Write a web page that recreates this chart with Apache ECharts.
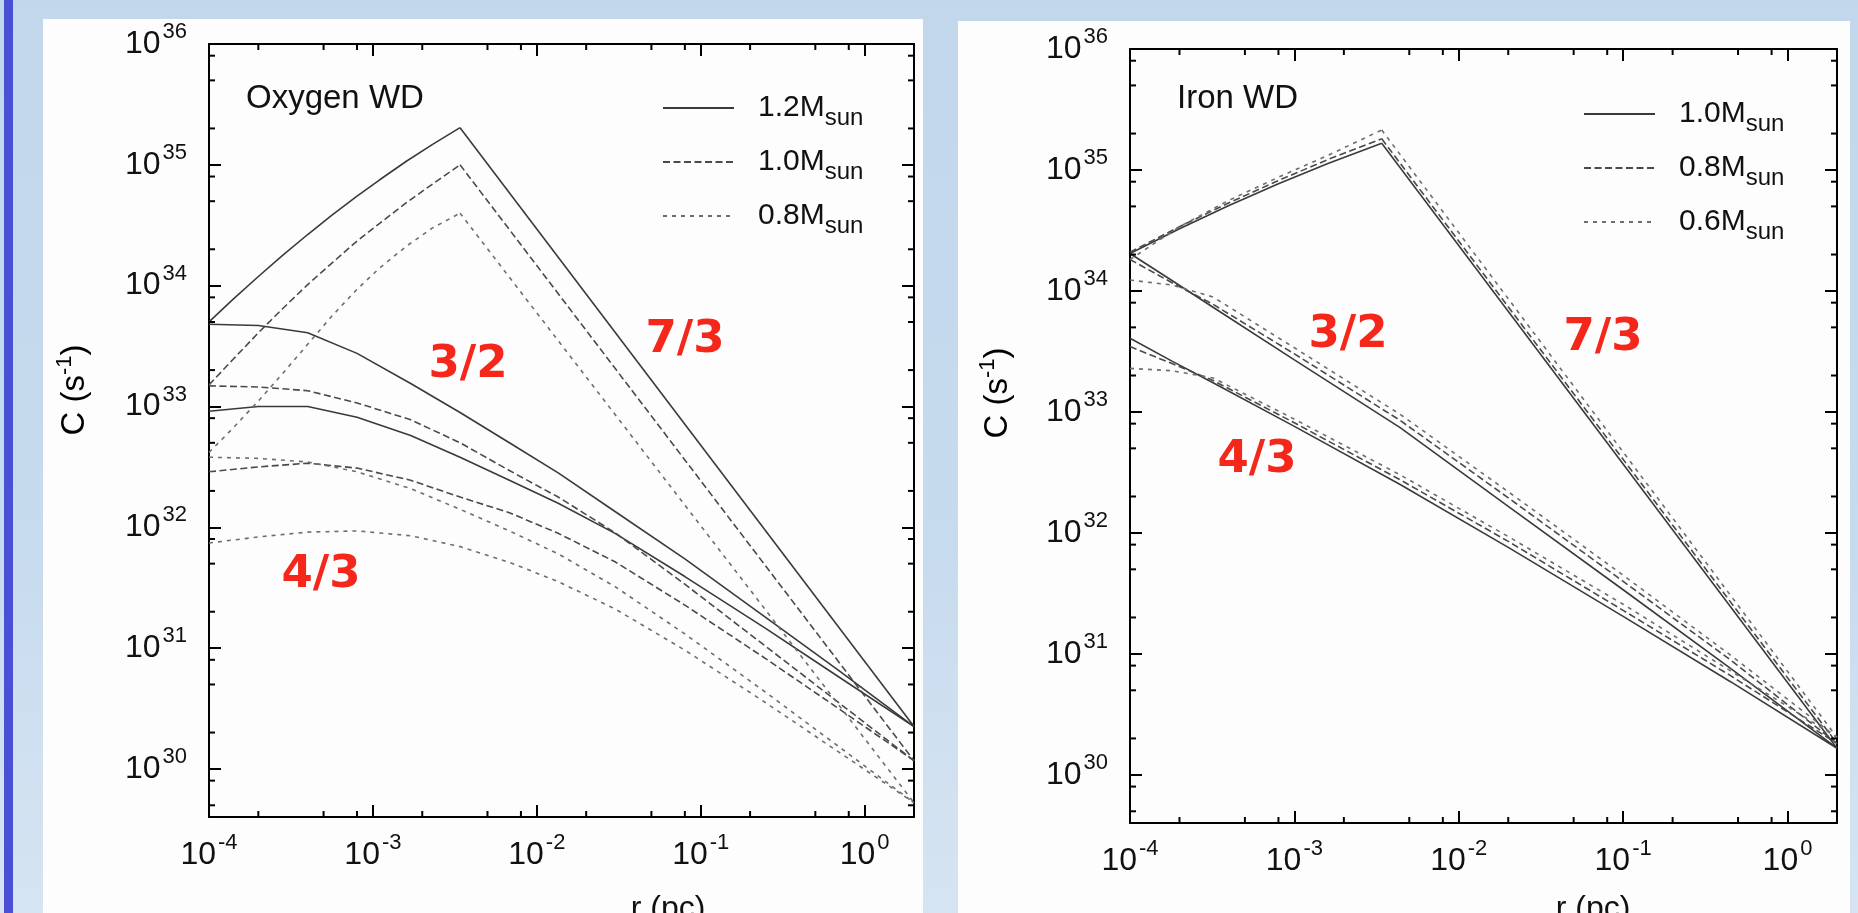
<!DOCTYPE html>
<html>
<head>
<meta charset="utf-8">
<script src="https://cdn.jsdelivr.net/npm/echarts@6/dist/echarts.min.js"></script>
<style>
  html, body { margin: 0; padding: 0; }
  body { width: 1858px; height: 913px; position: relative; overflow: hidden;
         background: linear-gradient(180deg, #c2d7ec 0%, #c7dbee 60%, #d6e4f2 100%); }
  .strip { position: absolute; left: 4px; top: 0; width: 9px; height: 913px; background: #4a50d6; }
  .panel { position: absolute; background: #fdfdfd; }
  #chart { position: absolute; left: 0; top: 0; width: 1858px; height: 913px; }
</style>
</head>
<body>
<div class="strip"></div>
<div class="panel" style="left:43px;top:19px;width:880px;height:894px;"></div>
<div class="panel" style="left:958px;top:21px;width:892px;height:892px;"></div>
<div id="chart"></div>
<script>
// ---- axis ranges ----
const R_MIN = 1e-4, R_MAX = 2;
const C_MIN = 4e29, C_MAX = 1e36;
const MINOR_STEPS = [2, 5, 8];

// ---- Oxygen WD (left panel) ----
// 7/3 branch: rising part up to the break radius, then a straight fall to r = 2 pc
const O_RISE_R = [1e-4, 1.4e-4, 2e-4, 2.8e-4, 4e-4, 5.6e-4, 8e-4, 1.1e-3, 1.6e-3, 2.3e-3, 3.4e-3];
const O12_73 = [5.01e33, 7.69e33, 1.19e34, 1.77e34, 2.65e34, 3.81e34, 5.51e34, 7.52e34, 1.07e35, 1.47e35, 2.03e35];
const O10_73 = [1.51e33, 2.45e33, 4.07e33, 6.41e33, 1.02e34, 1.53e34, 2.34e34, 3.28e34, 4.86e34, 6.90e34, 1.0e35];
const O08_73 = [4.17e32, 6.61e32, 1.11e33, 1.86e33, 3.27e33, 5.57e33, 9.33e33, 1.40e34, 2.12e34, 2.99e34, 3.98e34];
const O_FALL_R = [3.4e-3, 2];
const O12_73_FALL = [2.03e35, 2.24e30];
const O10_73_FALL = [1.0e35, 1.17e30];
const O08_73_FALL = [3.98e34, 5.25e29];

// 3/2 and 4/3 branches
const O_R = [1e-4, 2e-4, 4e-4, 8e-4, 1.7e-3, 3.4e-3, 6.8e-3, 1.35e-2, 3e-2, 8e-2, 2.5e-1, 7e-1, 2];
const O12_32 = [4.79e33, 4.68e33, 4.07e33, 2.75e33, 1.55e33, 8.91e32, 5.01e32, 2.82e32, 1.35e32, 5.48e31, 1.79e31, 6.47e30, 2.24e30];
const O12_43 = [9.12e32, 1.0e33, 1.0e33, 8.13e32, 5.75e32, 3.80e32, 2.45e32, 1.58e32, 8.91e31, 3.91e31, 1.45e31, 5.74e30, 2.24e30];
const O10_32 = [1.48e33, 1.45e33, 1.35e33, 1.07e33, 7.76e32, 5.01e32, 2.95e32, 1.78e32, 9.02e31, 3.38e31, 1.03e31, 3.51e30, 1.17e30];
const O10_43 = [2.88e32, 3.16e32, 3.39e32, 3.09e32, 2.45e32, 1.78e32, 1.32e32, 8.91e31, 5.18e31, 2.27e31, 8.15e30, 3.13e30, 1.17e30];
const O08_32 = [3.80e32, 3.72e32, 3.47e32, 2.88e32, 2.09e32, 1.41e32, 9.33e31, 6.03e31, 3.23e31, 1.31e31, 4.29e30, 1.52e30, 5.25e29];
const O08_43 = [7.41e31, 8.32e31, 9.12e31, 9.33e31, 8.51e31, 6.92e31, 5.13e31, 3.55e31, 2.11e31, 9.62e30, 3.52e30, 1.37e30, 5.25e29];

// ---- Iron WD (right panel) ----
const FE_RISE_R = [1e-4, 2e-4, 4e-4, 8e-4, 1.6e-3, 3.4e-3];
const FE10_73 = [2.04e34, 3.27e34, 5.08e34, 7.69e34, 1.13e35, 1.66e35];
const FE08_73 = [2.09e34, 3.40e34, 5.35e34, 8.18e34, 1.22e35, 1.81e35];
const FE06_73 = [1.82e34, 3.39e34, 5.62e34, 8.71e34, 1.32e35, 2.14e35];
const FE_FALL_R = [3.4e-3, 2];
const FE10_73_FALL = [1.66e35, 1.66e30];
const FE08_73_FALL = [1.81e35, 1.82e30];
const FE06_73_FALL = [2.14e35, 2.04e30];

const FE_R = [1e-4, 1.8e-4, 3.2e-4, 1e-3, 4.4e-3, 2e-2, 1e-1, 4.5e-1, 2];
const FE10_32 = [2.04e34, 1.22e34, 7.33e33, 2.69e33, 7.41e32, 1.66e32, 3.39e31, 7.59e30, 1.66e30];
const FE08_32 = [1.82e34, 1.17e34, 7.76e33, 3.02e33, 8.51e32, 1.95e32, 3.98e31, 8.91e30, 1.82e30];
const FE06_32 = [1.23e34, 1.12e34, 8.91e33, 3.39e33, 9.55e32, 2.19e32, 4.47e31, 9.77e30, 2.04e30];
const FE10_43 = [4.07e33, 2.63e33, 1.74e33, 7.59e32, 2.51e32, 7.59e31, 2.04e31, 5.89e30, 1.66e30];
const FE08_43 = [3.47e33, 2.51e33, 1.82e33, 8.13e32, 2.75e32, 8.51e31, 2.29e31, 6.61e30, 1.82e30];
const FE06_43 = [2.29e33, 2.19e33, 1.91e33, 8.71e32, 3.02e32, 9.33e31, 2.57e31, 7.24e30, 2.04e30];

// ---- legend entries ----
const LEGEND_O = ['1.2', '1.0', '0.8'];
const LEGEND_FE = ['1.0', '0.8', '0.6'];

const FONT = '"Liberation Sans", Arial, sans-serif';
const INK = '#111';
const LINE_STYLES = {
  solid:  { type: 'solid', color: '#3a3a3a' },
  dashed: { type: [7, 3.5], color: '#4a4a4a' },
  dotted: { type: [4, 5], color: '#6e6e6e' }
};

function curve(name, gi, r, c, kind) {
  const st = LINE_STYLES[kind];
  return {
    type: 'line', name: name, xAxisIndex: 2 * gi, yAxisIndex: 2 * gi,
    data: r.map((x, i) => [x, c[i]]),
    symbol: 'none', showSymbol: false, silent: true, animation: false, z: 3,
    lineStyle: { width: 1.6, type: st.type, color: st.color },
    itemStyle: { color: st.color }
  };
}

// power-of-ten tick label with superscript exponent
const POW_RICH = {
  b: { fontSize: 32, lineHeight: 46, fontFamily: FONT, color: INK },
  e: { fontSize: 22, lineHeight: 20, verticalAlign: 'top', fontFamily: FONT, color: INK, padding: [0, 0, 0, 2] }
};
function powLabel(v) {
  const e = Math.log10(v);
  const n = Math.round(e);
  if (!isFinite(e) || Math.abs(e - n) > 1e-6) return '';
  return '{b|10}{e|' + n + '}';
}

function axis(dim, gi, pos, labels) {
  const isX = dim === 'x';
  return {
    type: 'log', logBase: 10, gridIndex: gi, position: pos,
    min: isX ? R_MIN : C_MIN, max: isX ? R_MAX : C_MAX,
    axisLine: { show: true, onZero: false, lineStyle: { color: '#000', width: 2 } },
    axisTick: { show: true, inside: true, length: 12, lineStyle: { color: '#000', width: 2 } },
    minorTick: { show: false }, splitLine: { show: false },
    axisLabel: { show: labels, margin: isX ? 15 : 22, formatter: powLabel, rich: POW_RICH,
                 showMinLabel: true, showMaxLabel: true, hideOverlap: false },
    silent: true
  };
}

// minor ticks at 2, 5, 8 per decade on all four sides of a frame
function minorData() {
  const out = [];
  for (let e = -5; e <= 1; e++) {
    MINOR_STEPS.forEach(m => {
      const v = m * Math.pow(10, e);
      if (v > R_MIN && v < R_MAX * 0.999) out.push([v, C_MIN, 0]);
    });
  }
  for (let e = 29; e <= 36; e++) {
    MINOR_STEPS.forEach(m => {
      const v = m * Math.pow(10, e);
      if (v > C_MIN && v < C_MAX) out.push([R_MIN, v, 1]);
    });
  }
  return out;
}
function minorTicks(gi) {
  return {
    type: 'custom', xAxisIndex: 2 * gi, yAxisIndex: 2 * gi, silent: true, animation: false,
    clip: false, z: 4, data: minorData(),
    renderItem: function (params, api) {
      const kind = api.value(2);
      const p = api.coord([api.value(0), api.value(1)]);
      const cs = params.coordSys;
      const st = { stroke: '#000', lineWidth: 2 };
      const L = 6;
      if (kind === 0) {
        return { type: 'group', children: [
          { type: 'line', shape: { x1: p[0], y1: cs.y + cs.height, x2: p[0], y2: cs.y + cs.height - L }, style: st },
          { type: 'line', shape: { x1: p[0], y1: cs.y, x2: p[0], y2: cs.y + L }, style: st }
        ] };
      }
      return { type: 'group', children: [
        { type: 'line', shape: { x1: cs.x, y1: p[1], x2: cs.x + L, y2: p[1] }, style: st },
        { type: 'line', shape: { x1: cs.x + cs.width, y1: p[1], x2: cs.x + cs.width - L, y2: p[1] }, style: st }
      ] };
    }
  };
}

const LEG_RICH = {
  a: { fontSize: 30, lineHeight: 44, fontFamily: FONT, color: INK, padding: [0, 0, 0, 19] },
  s: { fontSize: 24, lineHeight: 22, verticalAlign: 'bottom', fontFamily: FONT, color: INK }
};
function legend(left, top, names, labels) {
  return {
    left: left, top: top, orient: 'vertical', itemWidth: 71, itemHeight: 14, itemGap: 17,
    selectedMode: false, data: names,
    itemStyle: { opacity: 0, borderWidth: 0 },
    formatter: n => '{a|' + labels[names.indexOf(n)] + 'M}{s|sun}',
    textStyle: { rich: LEG_RICH }
  };
}

const RED = '#f5271a';
function redText(txt, x, y) {
  return { type: 'text', x: x, y: y, silent: true, z: 10,
    style: { text: txt, fill: RED, font: 'bold 45px "DejaVu Sans", sans-serif', align: 'center', verticalAlign: 'middle' } };
}
function plainText(txt, x, y) {
  return { type: 'text', x: x, y: y, silent: true, z: 10,
    style: { text: txt, fill: INK, font: '33px ' + FONT, align: 'left', verticalAlign: 'middle' } };
}
const TITLE_RICH = {
  a: { fontSize: 33, lineHeight: 42, fontFamily: FONT, color: INK },
  e: { fontSize: 22, lineHeight: 18, verticalAlign: 'top', fontFamily: FONT, color: INK }
};
function yTitle(x, y) {
  return { type: 'text', x: x, y: y, rotation: Math.PI / 2, silent: true, z: 10,
    style: { text: '{a|C (s}{e|-1}{a|)}', rich: TITLE_RICH, align: 'center', verticalAlign: 'middle' } };
}
function xTitle(x, y) {
  return { type: 'text', x: x, y: y, silent: true, z: 10,
    style: { text: 'r (pc)', fill: INK, font: '32px ' + FONT, align: 'center', verticalAlign: 'top' } };
}

const names = {
  o12: 'Oxygen WD 1.2', o10: 'Oxygen WD 1.0', o08: 'Oxygen WD 0.8',
  f10: 'Iron WD 1.0', f08: 'Iron WD 0.8', f06: 'Iron WD 0.6'
};

const option = {
  animation: false,
  grid: [
    { left: 209, top: 44, width: 705, height: 773 },
    { left: 1130, top: 49, width: 707, height: 774 }
  ],
  xAxis: [axis('x', 0, 'bottom', true), axis('x', 0, 'top', false),
          axis('x', 1, 'bottom', true), axis('x', 1, 'top', false)],
  yAxis: [axis('y', 0, 'left', true), axis('y', 0, 'right', false),
          axis('y', 1, 'left', true), axis('y', 1, 'right', false)],
  legend: [
    legend(657, 88, [names.o12, names.o10, names.o08], LEGEND_O),
    legend(1578, 94, [names.f10, names.f08, names.f06], LEGEND_FE)
  ],
  series: [
    curve(names.o12, 0, O_RISE_R, O12_73, 'solid'),
    curve(names.o12, 0, O_FALL_R, O12_73_FALL, 'solid'),
    curve(names.o12, 0, O_R, O12_32, 'solid'),
    curve(names.o12, 0, O_R, O12_43, 'solid'),
    curve(names.o10, 0, O_RISE_R, O10_73, 'dashed'),
    curve(names.o10, 0, O_FALL_R, O10_73_FALL, 'dashed'),
    curve(names.o10, 0, O_R, O10_32, 'dashed'),
    curve(names.o10, 0, O_R, O10_43, 'dashed'),
    curve(names.o08, 0, O_RISE_R, O08_73, 'dotted'),
    curve(names.o08, 0, O_FALL_R, O08_73_FALL, 'dotted'),
    curve(names.o08, 0, O_R, O08_32, 'dotted'),
    curve(names.o08, 0, O_R, O08_43, 'dotted'),
    curve(names.f10, 1, FE_RISE_R, FE10_73, 'solid'),
    curve(names.f10, 1, FE_FALL_R, FE10_73_FALL, 'solid'),
    curve(names.f10, 1, FE_R, FE10_32, 'solid'),
    curve(names.f10, 1, FE_R, FE10_43, 'solid'),
    curve(names.f08, 1, FE_RISE_R, FE08_73, 'dashed'),
    curve(names.f08, 1, FE_FALL_R, FE08_73_FALL, 'dashed'),
    curve(names.f08, 1, FE_R, FE08_32, 'dashed'),
    curve(names.f08, 1, FE_R, FE08_43, 'dashed'),
    curve(names.f06, 1, FE_RISE_R, FE06_73, 'dotted'),
    curve(names.f06, 1, FE_FALL_R, FE06_73_FALL, 'dotted'),
    curve(names.f06, 1, FE_R, FE06_32, 'dotted'),
    curve(names.f06, 1, FE_R, FE06_43, 'dotted'),
    minorTicks(0),
    minorTicks(1)
  ],
  graphic: [
    plainText('Oxygen WD', 246, 99),
    plainText('Iron WD', 1177, 99),
    redText('3/2', 468, 365), redText('7/3', 685, 340), redText('4/3', 321, 575),
    redText('3/2', 1348, 335), redText('7/3', 1603, 338), redText('4/3', 1257, 460),
    yTitle(75, 390), yTitle(998, 393),
    xTitle(668, 893), xTitle(1593, 893)
  ]
};

const chart = echarts.init(document.getElementById('chart'), null, { renderer: 'canvas' });
chart.setOption(option);
</script>
</body>
</html>
